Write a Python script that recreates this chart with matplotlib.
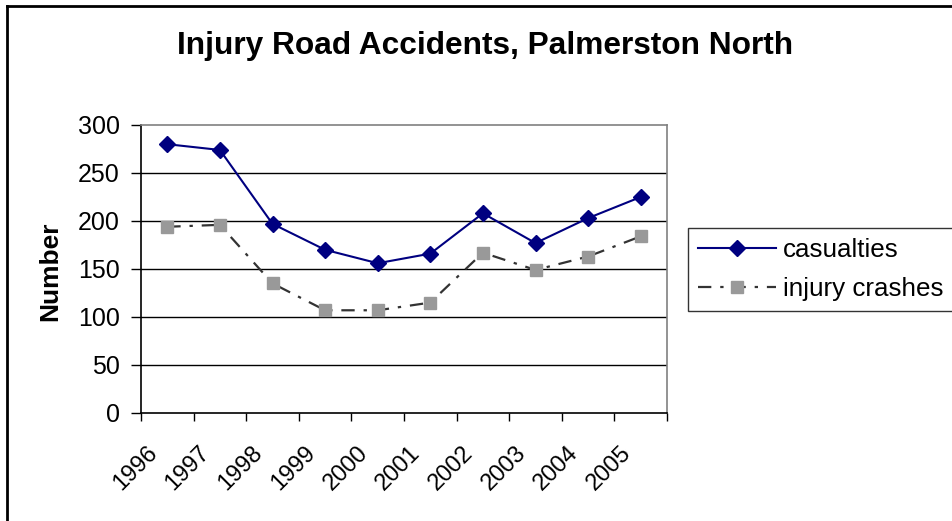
import matplotlib
matplotlib.use("Agg")
import matplotlib.pyplot as plt
from matplotlib.lines import Line2D
from matplotlib.transforms import ScaledTranslation

plt.rcParams['font.family'] = ['Liberation Sans', 'DejaVu Sans']

# data
years = ['1996', '1997', '1998', '1999', '2000', '2001', '2002', '2003', '2004', '2005']
casualties = [280, 274, 197, 170, 156, 166, 208, 177, 203, 225]
injury_crashes = [194, 196, 135, 107, 107, 115, 167, 149, 163, 184]

W, H = 952, 521
fig = plt.figure(figsize=(W / 100, H / 100), dpi=100)
ax = fig.add_axes([141 / W, 1 - 413 / H, (667 - 141) / W, (413 - 125) / H])

x = list(range(len(years)))
ax.plot(x, casualties, color='#000080', lw=1.5, marker='D', markersize=8,
        markerfacecolor='#000080', markeredgecolor='#000080', label='casualties')
ax.plot(x, injury_crashes, color='#333333', lw=1.6, linestyle=(0, (6, 4, 1.5, 4)),
        marker='s', markersize=8, markerfacecolor='#999999', markeredgecolor='#999999',
        label='injury crashes')

# axes
ax.set_ylim(0, 300)
ax.set_xlim(-0.5, len(years) - 0.5)
ax.set_yticks(range(0, 301, 50))
ax.set_xticks([i - 0.5 for i in range(len(years) + 1)])
ax.set_xticklabels([])
ax.set_xticks(x, minor=True)
ax.set_xticklabels(years, minor=True, rotation=45, ha='right', va='baseline',
                   rotation_mode='anchor')
ax.tick_params(axis='x', which='minor', length=0, pad=29.5, labelsize=17)
ax.tick_params(axis='x', which='major', length=6, width=1, direction='out')
ax.tick_params(axis='y', length=7.2, width=1, direction='out', pad=8, labelsize=18)

# shift year labels a little left, as in the reference
shift = ScaledTranslation(-9 / 100, 0, fig.dpi_scale_trans)
for lbl in ax.get_xticklabels(minor=True):
    lbl.set_transform(lbl.get_transform() + shift)

for yv in range(50, 300, 50):
    ax.axhline(yv, color='black', lw=1, zorder=0)

ax.spines['top'].set_color('#808080')
ax.spines['right'].set_color('#808080')
for s in ax.spines.values():
    s.set_linewidth(1.2)

fig.text(50 / W, 1 - 271 / H, 'Number', fontsize=19, fontweight='bold',
         rotation=90, ha='center', va='center')
fig.text(485 / W, 1 - 46 / H, 'Injury Road Accidents, Palmerston North',
         fontsize=22.8, fontweight='bold', ha='center', va='center')

leg = fig.legend(loc='upper left', bbox_to_anchor=(688 / W, 1 - 228 / H),
                 fontsize=18.7, frameon=True, fancybox=False, edgecolor='black',
                 handlelength=3.0, handletextpad=0.25, labelspacing=0.55,
                 borderpad=0.4, borderaxespad=0)
leg.get_frame().set_linewidth(1)

# outer chart frame
fig.add_artist(Line2D([7 / W, 7 / W], [-0.1, 1 - 6 / H], color='black', lw=2,
                      transform=fig.transFigure))
fig.add_artist(Line2D([7 / W, 1.1], [1 - 6 / H, 1 - 6 / H], color='black', lw=2,
                      transform=fig.transFigure))

fig.savefig('out.png', dpi=100)
